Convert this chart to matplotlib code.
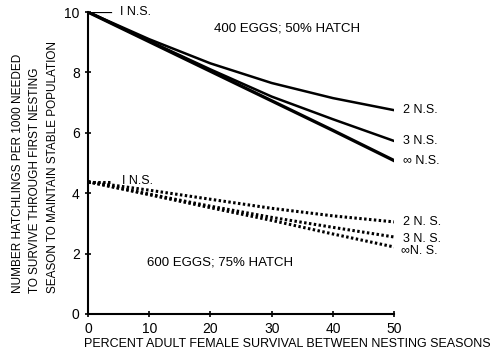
import numpy as np
import matplotlib.pyplot as plt

plt.rcParams['font.family'] = ['Liberation Sans', 'DejaVu Sans']
plt.rcParams['font.size'] = 9

# adult female survival (%)
survival = [0, 10, 20, 30, 40, 50]

# 400 eggs; 50% hatch
eggs400_2ns = [10, 9.1, 8.3, 7.65, 7.15, 6.75]
eggs400_3ns = [10, 9.04, 8.1, 7.2, 6.45, 5.73]
eggs400_inf = [10, 9.02, 8.04, 7.06, 6.08, 5.08]
eggs400_1ns = [10, 10]
short_x = [0, 3.7]

# 600 eggs; 75% hatch
eggs600_2ns = [4.38, 4.1, 3.8, 3.5, 3.25, 3.05]
eggs600_3ns = [4.38, 3.97, 3.57, 3.2, 2.87, 2.55]
eggs600_inf = [4.38, 3.95, 3.52, 3.1, 2.65, 2.22]
eggs600_1ns = [4.38, 4.38]
short_x2 = [0, 4.0]

fig = plt.figure(figsize=(4.97, 3.54), dpi=100)
ax = fig.add_axes([0.177, 0.113, 0.616, 0.853])

ax.plot(short_x, eggs400_1ns, color='black', lw=1.6)
ax.plot(survival, eggs400_2ns, color='black', lw=1.8)
ax.plot(survival, eggs400_3ns, color='black', lw=1.8)
ax.plot(survival, eggs400_inf, color='black', lw=2.4)

dots = (0, (0.8, 0.8))
ax.plot(short_x2, eggs600_1ns, color='black', lw=2.2, ls=dots)
ax.plot(survival, eggs600_2ns, color='black', lw=2.2, ls=dots)
ax.plot(survival, eggs600_3ns, color='black', lw=2.2, ls=dots)
ax.plot(survival, eggs600_inf, color='black', lw=2.2, ls=dots)

# line labels
lab = dict(va='center', ha='left', fontsize=9)
ax.text(5.2, 10, 'I N.S.', **lab)
ax.text(51.5, 6.75, '2 N.S.', **lab)
ax.text(51.5, 5.73, '3 N.S.', **lab)
ax.text(51.5, 5.08, '\u221e N.S.', **lab)
ax.text(5.5, 4.42, 'I N.S.', **lab)
ax.text(51.5, 3.05, '2 N. S.', **lab)
ax.text(51.5, 2.48, '3 N. S.', **lab)
ax.text(51.2, 2.1, '\u221eN. S.', **lab)

ax.text(32.5, 9.45, '400 EGGS; 50% HATCH', ha='center', va='center', fontsize=9.5)
ax.text(21.5, 1.7, '600 EGGS; 75% HATCH', ha='center', va='center', fontsize=9.5)

ax.set_xlim(0, 50)
ax.set_ylim(0, 10)
ax.set_xticks(range(0, 51, 10))
ax.set_yticks(range(0, 11, 2))
ax.spines['top'].set_visible(False)
ax.spines['right'].set_visible(False)
ax.spines['left'].set_linewidth(1.5)
ax.spines['bottom'].set_linewidth(1.5)
ax.tick_params(direction='inout', length=5, width=1.2, labelsize=10)

ax.set_xlabel('PERCENT ADULT FEMALE SURVIVAL BETWEEN NESTING SEASONS', fontsize=9)
ax.xaxis.set_label_coords(0.65, -0.078)

fig.text(0.071, 0.527,
         'NUMBER HATCHLINGS PER 1000 NEEDED\nTO SURVIVE THROUGH FIRST NESTING\nSEASON TO MAINTAIN STABLE POPULATION',
         rotation=90, ha='center', va='center', multialignment='left',
         fontsize=8.5, linespacing=1.6)

fig.savefig('out.png', dpi=100)
